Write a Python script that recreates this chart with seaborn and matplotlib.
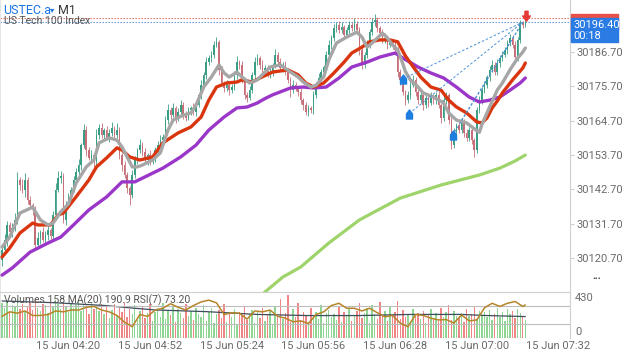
import matplotlib
import matplotlib.pyplot as plt
import numpy as np
import seaborn as sns
from matplotlib.patches import Rectangle
from matplotlib.path import Path

matplotlib.use("Agg")

# M1 candles from 03:54 to 07:19 (index = minutes since 03:54)
first_open = 30120.0
closes = [
    30123.3, 30126.5, 30131.3, 30129.0, 30130.3, 30132.9, 30145.7, 30144.1, 30142.5, 30145.7,
    30139.3, 30137.7, 30136.1, 30124.9, 30127.1, 30129.0, 30126.5, 30128.1, 30129.7, 30127.8,
    30134.5, 30142.5, 30146.3, 30147.0, 30132.9, 30137.7, 30139.9, 30142.5, 30145.7, 30148.3,
    30150.5, 30156.9, 30161.7, 30155.3, 30152.8, 30153.7, 30151.5, 30160.1, 30162.4, 30160.1,
    30161.7, 30159.2, 30160.8, 30162.4, 30160.1, 30161.7, 30153.7, 30150.5, 30147.3, 30143.1,
    30140.9, 30147.3, 30152.1, 30155.3, 30156.9, 30154.7, 30152.1, 30153.7, 30151.5, 30152.8,
    30155.3, 30156.9, 30158.5, 30159.5, 30164.9, 30168.1, 30166.5, 30168.8, 30165.6, 30167.5,
    30169.7, 30166.5, 30165.6, 30168.1, 30168.8, 30167.5, 30169.7, 30172.9, 30176.2, 30179.4,
    30183.5, 30184.8, 30185.8, 30189.0, 30189.9, 30181.0, 30176.8, 30175.2, 30176.2, 30174.5,
    30175.5, 30179.4, 30183.5, 30182.6, 30177.8, 30172.9, 30172.0, 30174.5, 30179.4, 30183.5,
    30184.8, 30182.6, 30181.0, 30181.6, 30179.4, 30180.3, 30182.6, 30185.8, 30183.5, 30181.6,
    30182.6, 30180.3, 30177.8, 30174.5, 30176.2, 30175.2, 30173.9, 30171.3, 30169.7, 30167.5,
    30168.8, 30168.1, 30172.9, 30176.2, 30178.4, 30180.3, 30181.9, 30185.8, 30189.0, 30191.2,
    30194.4, 30195.4, 30193.8, 30194.7, 30192.2, 30193.8, 30195.4, 30194.4, 30195.7, 30193.8,
    30187.4, 30182.6, 30185.8, 30189.0, 30193.1, 30196.3, 30197.0, 30194.4, 30192.8, 30190.6,
    30191.2, 30189.0, 30189.9, 30189.0, 30187.4, 30180.3, 30177.8, 30173.9, 30171.3, 30172.9,
    30176.2, 30177.8, 30173.9, 30171.3, 30172.9, 30169.7, 30172.0, 30170.4, 30172.6, 30171.3,
    30172.9, 30169.7, 30165.6, 30171.3, 30172.9, 30164.9, 30156.9, 30161.1, 30163.3, 30161.7,
    30164.3, 30160.8, 30159.2, 30161.7, 30158.5, 30155.3, 30168.1, 30171.3, 30174.5, 30176.2,
    30178.7, 30181.0, 30182.6, 30180.3, 30183.2, 30184.8, 30185.8, 30187.4, 30189.6, 30191.2,
    30189.0, 30185.1, 30190.6, 30196.0, 30195.4, 30196.4,
]
upper_wick = [
    1.5, 2.0, 1.2, 0.8, 1.6, 2.2, 2.6, 1.0, 1.8, 2.4,
    0.9, 1.4, 0.7, 1.2, 1.9, 0.8, 1.5, 1.1, 2.0, 0.6,
    1.3, 2.1, 2.4, 1.7, 0.9, 1.2, 1.6, 0.8, 1.4, 1.1,
    1.9, 0.7, 1.8, 1.3, 0.9, 1.5, 0.6, 2.0, 1.2, 1.7,
    0.8, 1.4, 1.1, 1.9, 0.7, 2.2, 1.0, 0.6, 1.3, 0.9,
    0.7, 1.6, 1.2, 0.8, 1.9, 1.0, 1.4, 0.6, 1.5, 1.1,
    0.9, 1.3, 1.7, 0.8, 1.4, 2.0, 1.1, 1.6, 0.7, 1.2,
    1.8, 0.9, 1.3, 1.1, 0.6, 1.5, 1.2, 0.8, 1.4, 1.0,
    1.6, 0.9, 1.2, 1.1, 1.6, 0.8, 1.3, 0.7, 1.5, 0.9,
    1.1, 1.4, 1.8, 0.8, 1.2, 0.6, 1.0, 1.3, 0.9, 1.5,
    1.2, 0.8, 1.6, 0.9, 1.1, 1.4, 0.7, 1.9, 1.0, 1.2,
    0.8, 1.3, 0.6, 1.0, 1.4, 0.9, 0.7, 1.2, 0.8, 1.1,
    1.0, 0.7, 1.3, 0.9, 1.5, 1.1, 0.8, 1.2, 1.6, 1.0,
    1.4, 0.9, 1.2, 1.7, 0.8, 1.1, 1.3, 0.9, 2.0, 1.0,
    0.8, 1.2, 1.0, 1.5, 0.9, 1.4, 1.8, 1.1, 0.7, 1.2,
    1.5, 0.9, 1.1, 0.8, 1.3, 1.0, 0.9, 1.2, 0.7, 1.4,
    1.1, 1.6, 0.8, 1.0, 1.3, 0.7, 1.2, 0.9, 1.4, 0.8,
    1.0, 1.3, 0.7, 1.5, 1.1, 0.8, 0.9, 1.2, 0.7, 1.0,
    1.3, 0.8, 1.1, 0.9, 1.2, 0.7, 1.0, 1.4, 0.9, 1.2,
    0.8, 1.1, 1.5, 0.9, 1.2, 1.0, 1.3, 0.8, 1.1, 1.4,
    0.9, 1.2, 1.0, 1.1, 0.8, 0.6,
]
lower_wick = [
    1.8, 1.2, 2.0, 1.1, 1.5, 0.9, 1.3, 1.7, 1.0, 2.2,
    1.4, 0.8, 1.6, 1.0, 1.3, 1.9, 0.7, 1.2, 1.5, 0.9,
    1.1, 1.7, 0.8, 1.4, 1.0, 1.6, 0.9, 1.3, 0.7, 1.2,
    0.9, 1.5, 1.1, 1.8, 0.8, 1.2, 1.6, 0.9, 1.3, 1.0,
    1.4, 0.7, 1.2, 0.9, 1.6, 1.0, 1.3, 1.8, 0.9, 1.5,
    3.2, 1.1, 0.8, 1.4, 1.0, 1.2, 0.9, 1.6, 1.1, 0.8,
    1.3, 0.9, 1.1, 1.5, 0.8, 1.2, 1.4, 0.7, 1.6, 1.0,
    0.9, 1.3, 1.1, 0.8, 1.5, 1.0, 1.2, 0.7, 1.1, 0.9,
    1.2, 0.8, 1.4, 1.0, 0.7, 1.5, 1.1, 1.3, 0.9, 1.6,
    1.0, 0.8, 1.2, 1.4, 0.9, 1.1, 1.3, 0.8, 1.0, 1.2,
    0.9, 1.3, 1.0, 1.5, 0.8, 1.1, 1.2, 0.9, 1.4, 1.0,
    1.2, 0.8, 1.1, 2.2, 1.0, 0.9, 1.3, 1.1, 1.5, 1.0,
    1.2, 0.9, 1.4, 1.0, 0.8, 1.1, 1.3, 0.9, 1.0, 1.2,
    0.8, 1.1, 1.0, 0.9, 1.3, 0.8, 1.2, 1.0, 0.9, 1.4,
    1.6, 1.2, 0.9, 1.1, 1.0, 0.8, 1.2, 1.3, 0.9, 1.1,
    1.0, 1.4, 0.8, 1.2, 1.0, 1.5, 1.8, 1.1, 1.6, 0.9,
    1.2, 0.8, 1.3, 1.1, 0.9, 1.4, 1.0, 1.2, 0.8, 1.1,
    1.3, 0.9, 1.6, 1.0, 1.2, 1.1, 1.4, 0.9, 1.2, 1.0,
    0.8, 1.3, 1.1, 0.9, 1.2, 2.2, 1.0, 0.8, 1.1, 0.9,
    1.0, 1.2, 0.8, 1.1, 0.9, 1.3, 1.0, 0.7, 1.2, 0.9,
    1.1, 0.8, 1.2, 0.9, 1.0, 0.7,
]
volumes = [
    310, 265, 330, 240, 295, 280, 345, 260, 300, 230,
    285, 315, 250, 335, 270, 240, 305, 290, 225, 320,
    275, 340, 300, 255, 325, 280, 230, 310, 265, 295,
    330, 245, 300, 270, 215, 315, 260, 290, 240, 305,
    210, 280, 175, 250, 300, 195, 270, 230, 320, 185,
    260, 215, 290, 160, 240, 275, 180, 225, 300, 150,
    235, 265, 190, 310, 170, 245, 205, 280, 140, 255,
    220, 175, 300, 195, 240, 160, 265, 210, 185, 290,
    150, 230, 270, 130, 215, 250, 175, 300, 145, 225,
    190, 260, 120, 235, 205, 280, 160, 215, 250, 135,
    230, 180, 265, 150, 210, 240, 125, 275, 195, 350,
    170, 225, 380, 140, 255, 190, 310, 160, 230, 205,
    145, 265, 200, 235, 170, 290, 130, 220, 250, 185,
    215, 160, 275, 140, 230, 195, 260, 150, 205, 240,
    310, 180, 225, 265, 135, 290, 210, 170, 320, 195,
    240, 155, 275, 200, 230, 330, 170, 250, 185, 215,
    140, 260, 195, 225, 165, 240, 130, 210, 255, 180,
    220, 150, 270, 190, 235, 290, 160, 245, 200, 175,
    225, 140, 260, 195, 215, 280, 170, 240, 205, 230,
    185, 250, 160, 215, 270, 190, 235, 150, 260, 210,
    240, 175, 255, 220, 200, 158,
]

# moving averages (candle index, price)
gray_idx = [0, 3, 7, 12, 15, 18, 20, 23, 26, 29, 33, 36, 38, 42, 45, 47, 51, 53, 55, 59,
            62, 65, 67, 71, 74, 76, 79, 82, 85, 87, 89, 92, 94, 97, 100, 103, 105, 109, 113,
            116, 118, 121, 123, 126, 128, 131, 135, 139, 141, 143, 145, 149, 151, 153, 155,
            157, 158, 160, 163, 165, 169, 173, 175, 178, 182, 186, 187, 188, 191, 194, 196,
            199, 202, 204, 205]
gray_ma = [30124.2, 30127.4, 30135.1, 30137.0, 30132.9, 30131.3, 30131.9, 30135.5, 30138.0,
           30144.7, 30149.9, 30152.1, 30157.6, 30159.2, 30158.5, 30156.3, 30149.9, 30149.9,
           30150.5, 30152.1, 30154.4, 30161.7, 30164.9, 30166.5, 30167.2, 30169.7, 30175.5,
           30178.7, 30182.6, 30180.0, 30178.7, 30180.3, 30178.7, 30176.8, 30177.8, 30180.3,
           30181.9, 30182.6, 30180.3, 30178.7, 30177.1, 30175.5, 30176.1, 30178.7, 30184.2,
           30189.6, 30191.5, 30193.1, 30191.5, 30188.3, 30189.6, 30192.8, 30191.2, 30189.0,
           30187.4, 30183.0, 30180.5, 30177.8, 30175.5, 30173.6, 30172.3, 30170.4, 30167.2,
           30164.9, 30164.0, 30161.5, 30161.0, 30163.5, 30169.1, 30174.5, 30176.8, 30181.0,
           30184.8, 30186.7, 30188.0]
red_idx = [0, 3, 7, 12, 14, 19, 22, 24, 29, 34, 37, 41, 45, 47, 50, 54, 59, 63, 69, 74,
           78, 81, 84, 88, 92, 94, 98, 101, 106, 112, 116, 119, 122, 126, 130, 134, 137,
           141, 144, 148, 152, 155, 156, 158, 160, 164, 168, 172, 175, 178, 182, 186, 188,
           190, 192, 194, 196, 200, 204, 205]
red_ma = [30121.0, 30123.9, 30128.7, 30131.9, 30131.3, 30131.3, 30134.5, 30135.1, 30140.3,
          30145.7, 30149.9, 30152.8, 30156.0, 30155.3, 30153.1, 30152.1, 30153.1, 30157.6,
          30160.8, 30162.7, 30165.9, 30171.3, 30175.5, 30176.8, 30177.1, 30177.8, 30177.1,
          30178.4, 30180.3, 30181.0, 30179.4, 30176.8, 30175.5, 30176.8, 30180.0, 30183.5,
          30186.4, 30188.3, 30190.0, 30190.6, 30190.6, 30190.0, 30188.5, 30185.5, 30183.2,
          30178.7, 30175.5, 30174.5, 30171.3, 30169.1, 30167.2, 30164.3, 30164.0, 30165.6,
          30168.8, 30171.0, 30173.6, 30177.8, 30181.6, 30183.2]
purple_idx = [0, 4, 11, 18, 23, 28, 34, 41, 47, 52, 55, 63, 70, 76, 81, 87, 92, 96, 100,
              103, 106, 113, 118, 122, 127, 132, 137, 143, 148, 154, 157, 163, 168, 173,
              178, 183, 187, 191, 195, 199, 203, 205]
purple_ma = [30115.2, 30117.5, 30122.6, 30125.5, 30127.4, 30131.3, 30136.1, 30140.3, 30145.1,
             30145.1, 30146.3, 30149.5, 30153.1, 30156.9, 30161.7, 30165.9, 30168.8, 30169.1,
             30170.4, 30171.8, 30173.0, 30175.2, 30175.5, 30175.2, 30175.5, 30178.4, 30181.9,
             30183.5, 30185.1, 30186.4, 30184.8, 30181.9, 30180.0, 30178.4, 30175.5, 30172.3,
             30170.7, 30171.3, 30172.3, 30174.5, 30176.8, 30178.4]
green_idx = [99, 103, 110, 117, 128, 140, 156, 172, 187, 195, 201, 205]
green_ma = [30107.2, 30109.8, 30114.6, 30117.8, 30125.5, 30132.9, 30139.9, 30144.1, 30147.3,
            30149.5, 30151.8, 30153.7]

# indicator panel
rsi_idx = list(range(0, 205, 3)) + [205]
rsi_vals = [48, 58, 55, 60, 50, 50, 52, 60, 58, 62,
            62, 68, 70, 62, 58, 50, 35, 25, 52, 48,
            62, 66, 76, 68, 62, 72, 80, 84, 78, 52,
            56, 55, 42, 60, 58, 62, 48, 44, 36, 38,
            32, 52, 58, 72, 77, 66, 66, 60, 66, 56,
            47, 50, 33, 25, 52, 50, 44, 40, 41, 33,
            51, 38, 40, 67, 77, 70, 77, 81, 70, 73.2]
vol_ma_idx = [0, 20, 40, 52, 60, 80, 100, 120, 140, 160, 180, 190, 205]
vol_ma = [330, 315, 290, 265, 250, 235, 210, 200, 200, 210, 210, 200, 191]

# trade markers
buy_idx = [157, 159.5, 176.5]
buy_price = [30178.1, 30167.0, 30160.0]
link_start_idx = [157, 159.5, 176.5, 180]
link_start_price = [30178.1, 30167.0, 30160.0, 30164.9]
link_end = (204, 30196.3)
sell_idx, sell_price = 205.2, 30198.4
bid, ask = 30196.40, 30197.60

price_ticks = [30120.70, 30131.70, 30142.70, 30153.70, 30164.70, 30175.70, 30186.70]
time_ticks = [26, 58, 90, 122, 154, 186, 218]
time_labels = ["15 Jun 04:20", "15 Jun 04:52", "15 Jun 05:24", "15 Jun 05:56",
               "15 Jun 06:28", "15 Jun 07:00", "15 Jun 07:32"]

sns.set_theme(style="white")
plt.rcParams["font.family"] = ["Roboto", "DejaVu Sans"]

W, H = 625, 352


def fx(x):
    return x / W


def fy(y):
    return 1 - y / H


fig = plt.figure(figsize=(6.25, 3.52), dpi=100)
ax = fig.add_axes([0, fy(292), fx(570), 292 / H])
axv = fig.add_axes([0, fy(338), fx(570), 46 / H])

# candles
close = np.array(closes)
opn = np.r_[first_open, close[:-1]]
idx = np.arange(len(close))
up = close >= opn
hi = np.maximum(opn, close) + np.array(upper_wick)
lo = np.minimum(opn, close) - np.array(lower_wick)
cols = np.where(up, "#3a9e85", "#c66f79")
ax.vlines(idx, lo, hi, colors=cols, linewidth=0.6, zorder=2)
ax.bar(idx, np.maximum(np.abs(close - opn), 0.3), bottom=np.minimum(opn, close),
       width=0.62, color=cols, linewidth=0, zorder=3)

sns.lineplot(x=green_idx, y=green_ma, ax=ax, color="#9ed46a", linewidth=2.3, zorder=4)
sns.lineplot(x=purple_idx, y=purple_ma, ax=ax, color="#9a36c8", linewidth=2.4, zorder=5)
sns.lineplot(x=red_idx, y=red_ma, ax=ax, color="#d9360f", linewidth=2.4, zorder=6)
sns.lineplot(x=gray_idx, y=gray_ma, ax=ax, color="#a6a6a6", linewidth=2.4, zorder=7)

ax.axhline(ask, color="#e06666", lw=0.8, ls=(0, (1.2, 1.5)), zorder=1)
ax.axhline(bid, color="#5b8fd8", lw=0.8, ls=(0, (1.2, 1.5)), zorder=1)
for sx, sp in zip(link_start_idx, link_start_price):
    ax.plot([sx, link_end[0]], [sp, link_end[1]], color="#4a90d9", lw=0.7,
            ls=(0, (2.5, 2)), zorder=8)

house = Path([(-0.6, -0.9), (0.6, -0.9), (0.6, 0.1), (0, 0.9), (-0.6, 0.1), (-0.6, -0.9)],
             closed=True)
down_arrow = Path([(-0.3, 1.0), (0.3, 1.0), (0.3, 0.1), (0.75, 0.1), (0, -0.9),
                   (-0.75, 0.1), (-0.3, 0.1), (-0.3, 1.0)], closed=True)
ax.plot(buy_idx, buy_price, ls="none", marker=house, markersize=6.5, color="#1e7fe0",
        zorder=9)
ax.plot([sell_idx], [sell_price], ls="none", marker=down_arrow, markersize=7.5,
        color="#e53935", zorder=9)

ax.set_xlim(-0.8, 222.5)
ax.set_ylim(30109.8, 30203.4)
ax.yaxis.tick_right()
ax.set_yticks(price_ticks)
ax.set_yticklabels([f"{p:.2f}" for p in price_ticks])
ax.tick_params(axis="y", length=3, width=0.8, color="#cfcfcf", labelsize=8,
               labelcolor="#6b6b6b", pad=2)
ax.set_xticks([])
ax.set_xlabel("")
ax.set_ylabel("")
ax.spines["top"].set_visible(False)
ax.spines["bottom"].set_visible(False)
ax.spines["left"].set_color("#e2e2e2")
ax.spines["right"].set_color("#d0d0d0")
ax.spines["right"].set_linewidth(0.8)

# volume / RSI panel
vcols = np.where(up, "#8fd695", "#f08585")
axv.bar(idx, volumes, width=0.55, color=vcols, linewidth=0, zorder=2)
sns.lineplot(x=vol_ma_idx, y=vol_ma, ax=axv, color="#3e4d5c", linewidth=0.9, zorder=3)
axv.set_ylim(0, 410)
axv.set_xlim(-0.8, 222.5)
axv.set_yticks([])
axv.set_xticks(time_ticks)
axv.set_xticklabels(time_labels)
axv.tick_params(axis="x", length=0, labelsize=8, labelcolor="#6b6b6b", pad=2)
axv.set_xlabel("")
axv.set_ylabel("")
axv.spines["bottom"].set_visible(False)
axv.spines["top"].set_color("#d0d0d0")
axv.spines["right"].set_color("#d0d0d0")
axv.spines["left"].set_color("#e2e2e2")
for s in axv.spines.values():
    s.set_linewidth(0.8)

axr = axv.twinx()
axr.axhline(70, color="#bdbdbd", lw=0.8, zorder=1)
axr.axhline(30, color="#bdbdbd", lw=0.8, zorder=1)
sns.lineplot(x=rsi_idx, y=rsi_vals, ax=axr, color="#b5852a", linewidth=1.1, zorder=4)
axr.set_ylim(0, 102)
axr.set_xlim(-0.8, 222.5)
axr.set_yticks([])
axr.set_ylabel("")
for s in axr.spines.values():
    s.set_visible(False)

# header and price boxes
fig.text(fx(3), fy(10), "USTEC.a", color="#1a73e8", fontsize=9, va="center")
fig.text(fx(50), fy(10), "▾", color="#1a73e8", fontsize=6, va="center")
fig.text(fx(58), fy(10), "M1", color="#3a3a3a", fontsize=9, va="center")
fig.text(fx(4), fy(21.5), "US Tech 100 Index", color="#555555", fontsize=7.5, va="center")
fig.text(fx(4), fy(300), "Volumes 158 MA(20) 190.9 RSI(7) 73.20", color="#555555",
         fontsize=7.5, va="center")

fig.patches.append(Rectangle((fx(571), fy(30)), 47 / W, 15.5 / H, color="#e8504a",
                             transform=fig.transFigure, zorder=5))
fig.patches.append(Rectangle((fx(571), fy(42)), 47 / W, 23.5 / H, color="#2a7be4",
                             transform=fig.transFigure, zorder=6))
fig.text(fx(573), fy(25), "30196.40", color="white", fontsize=8, va="center", zorder=7)
fig.text(fx(573), fy(36), "00:18", color="white", fontsize=8, va="center", zorder=7)
fig.text(fx(597), fy(279), "•••", color="#444444", fontsize=6, ha="center", va="center")
fig.text(fx(575), fy(298), "430", color="#6b6b6b", fontsize=8, va="center")
fig.text(fx(575), fy(332), "0", color="#6b6b6b", fontsize=8, va="center")

fig.savefig("out.png", dpi=100)
